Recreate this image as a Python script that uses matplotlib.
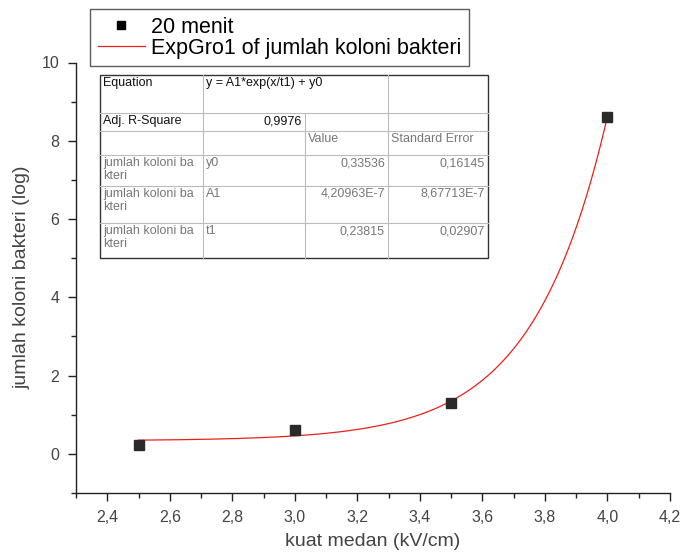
import numpy as np
import matplotlib.pyplot as plt
from matplotlib.ticker import MultipleLocator, FuncFormatter
from matplotlib.lines import Line2D

plt.rcParams['font.family'] = ['Liberation Sans', 'DejaVu Sans']

# data: 20 menit
kuat_medan = [2.5, 3.0, 3.5, 4.0]
jumlah_koloni = [0.22, 0.60, 1.31, 8.62]

# ExpGro1 fit parameters (from the table)
y0 = 0.33536
A1 = 4.20963e-7
t1 = 0.23815

table_rows = [
    ["Equation", "y = A1*exp(x/t1) + y0", "", ""],
    ["Adj. R-Square", "0,9976", "", ""],
    ["", "", "Value", "Standard Error"],
    ["jumlah koloni ba\nkteri", "y0", "0,33536", "0,16145"],
    ["jumlah koloni ba\nkteri", "A1", "4,20963E-7", "8,67713E-7"],
    ["jumlah koloni ba\nkteri", "t1", "0,23815", "0,02907"],
]

W, H = 680, 560
fig = plt.figure(figsize=(6.8, 5.6), dpi=100)
ax = fig.add_axes([76 / W, 1 - 493 / H, (670 - 76) / W, (493 - 62.5) / H])

xf = np.linspace(min(kuat_medan), max(kuat_medan), 300)
yf = A1 * np.exp(xf / t1) + y0
ax.plot(xf, yf, color='#e8221c', lw=0.9, zorder=2)
ax.plot(kuat_medan, jumlah_koloni, 's', color='#2a2a2a', ms=7, zorder=3)

ax.set_xlim(2.3, 4.2)
ax.set_ylim(-1, 10)
ax.xaxis.set_major_locator(MultipleLocator(0.2))
ax.xaxis.set_minor_locator(MultipleLocator(0.1))
ax.yaxis.set_major_locator(MultipleLocator(2))
ax.yaxis.set_minor_locator(MultipleLocator(1))
ax.xaxis.set_major_formatter(FuncFormatter(lambda v, p: f"{v:.1f}".replace('.', ',')))
ax.yaxis.set_major_formatter(FuncFormatter(lambda v, p: f"{v:.0f}"))
for s in ['top', 'right']:
    ax.spines[s].set_visible(False)
for s in ['left', 'bottom']:
    ax.spines[s].set_color('#222222')
    ax.spines[s].set_linewidth(1.0)
ax.tick_params(which='major', direction='out', length=6, width=1, colors='#222222',
               labelsize=11.5, labelcolor='#444444', pad=6)
ax.tick_params(which='minor', direction='out', length=3.5, width=1, colors='#222222')
ax.set_xlabel('kuat medan (kV/cm)', fontsize=14, color='#444444', labelpad=6)
ax.set_ylabel('jumlah koloni bakteri (log)', fontsize=14, color='#444444', labelpad=8)

handles = [Line2D([], [], ls='none', marker='s', color='black', ms=6),
           Line2D([], [], color='#e8221c', lw=0.9)]
leg = fig.legend(handles, ['20 menit', 'ExpGro1 of jumlah koloni bakteri'],
                 loc='upper left', bbox_to_anchor=(90 / W, 1 - 9 / H),
                 fontsize=15.5, frameon=True, fancybox=False, borderpad=0.35,
                 handlelength=2.2, handletextpad=0.3, labelspacing=0.0,
                 borderaxespad=0)
leg.get_frame().set_edgecolor('#333333')
leg.get_frame().set_linewidth(1.0)

# fit results table
tab = fig.add_axes([0, 0, 1, 1], facecolor='none')
tab.set_xlim(0, W)
tab.set_ylim(H, 0)
tab.axis('off')
cols = [100, 203, 305, 388, 488]
rows = [75, 113, 131, 155, 186, 223, 258]
tab.add_patch(plt.Rectangle((cols[0], rows[0]), cols[-1] - cols[0], rows[-1] - rows[0],
                            fill=True, facecolor='white', edgecolor='#333333', lw=1.0, zorder=1))
for r in rows[1:-1]:
    tab.plot([cols[0], cols[-1]], [r, r], color='#bbbbbb', lw=0.8, zorder=2)
for i, c in enumerate(cols[1:-1], start=1):
    if i == 2:
        tab.plot([c, c], [rows[1], rows[-1]], color='#bbbbbb', lw=0.8, zorder=2)
    else:
        tab.plot([c, c], [rows[0], rows[-1]], color='#bbbbbb', lw=0.8, zorder=2)

for ri, row in enumerate(table_rows):
    for ci, txt in enumerate(row):
        if not txt:
            continue
        dark = ri < 2
        right = (ci >= 2 and ri >= 3) or (ri == 1 and ci == 1)
        x = cols[ci + 1] - 3 if right else cols[ci] + 3
        tab.text(x, rows[ri] + 2, txt, fontsize=9, va='top',
                 ha='right' if right else 'left', linespacing=1.1,
                 color='#111111' if dark else '#777777', zorder=3)

fig.savefig('out.png', dpi=100)
